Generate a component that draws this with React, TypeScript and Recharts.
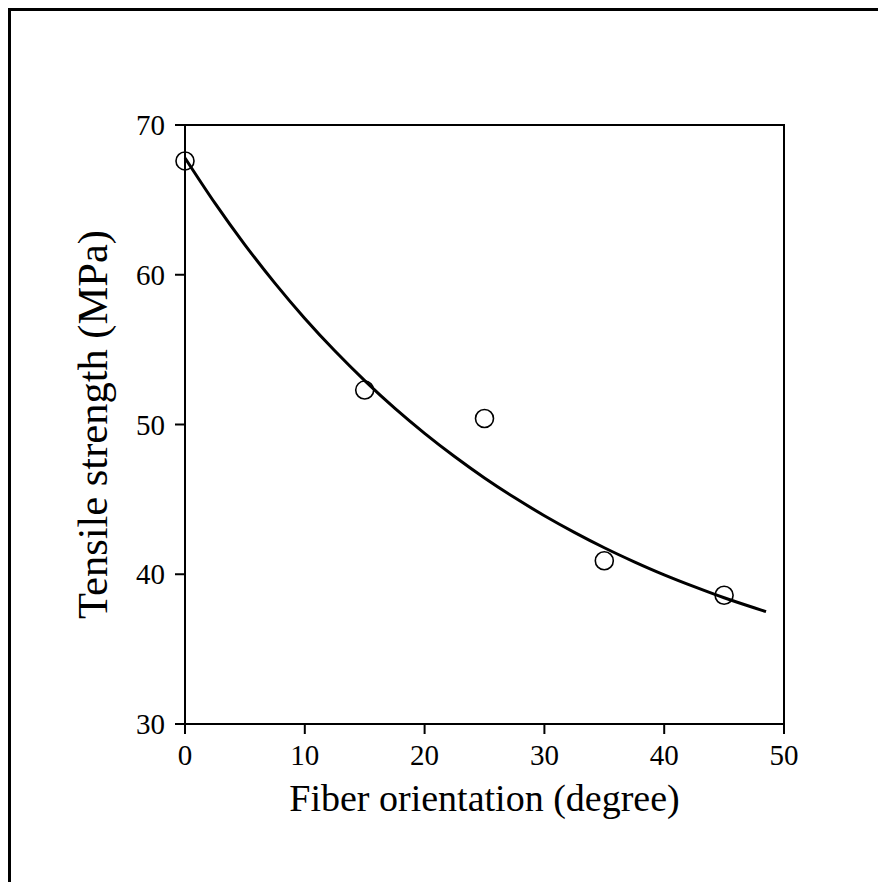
import {
  ComposedChart,
  Scatter,
  Line,
  XAxis,
  YAxis,
  ReferenceArea,
  Label,
} from "recharts";

// measured points
const orientation = [0, 15, 25, 35, 45];
const strength = [67.6, 52.3, 50.4, 40.9, 38.6];

// fitted curve
const fitX = [0, 2.5, 5, 7.5, 10, 12.5, 15, 17.5, 20, 22.5, 25, 27.5, 30, 32.5, 35, 37.5, 40, 42.5, 45, 47.5, 48.5];
const fitY = [67.8, 64.78, 62.0, 59.44, 57.08, 54.92, 52.93, 51.09, 49.41, 47.86, 46.43, 45.12, 43.91, 42.8, 41.77, 40.83, 39.96, 39.17, 38.43, 37.76, 37.5];

const xTicks = [0, 10, 20, 30, 40, 50];
const yTicks = [30, 40, 50, 60, 70];

const FONT = '"Liberation Serif", "Times New Roman", serif';
const TICK_SIZE = 29;

const points = orientation.map((x, i) => ({ x, y: strength[i] }));
const fit = fitX.map((x, i) => ({ x, y: fitY[i] }));

const OpenCircle = (props: any) => (
  <circle cx={props.cx} cy={props.cy} r={9} fill="none" stroke="#000" strokeWidth={1.6} />
);

const XTick = (props: any) => (
  <text
    x={props.x}
    y={props.y}
    dy="0.71em"
    textAnchor="middle"
    fill="#000"
    fontSize={TICK_SIZE}
    fontFamily={FONT}
  >
    {props.payload.value}
  </text>
);

const YTick = (props: any) => (
  <text
    x={props.x}
    y={props.y}
    dy="0.35em"
    textAnchor="end"
    fill="#000"
    fontSize={TICK_SIZE}
    fontFamily={FONT}
  >
    {props.payload.value}
  </text>
);

export default function App() {
  return (
    <div
      style={{
        width: 875,
        height: 871,
        borderLeft: "3px solid #000",
        borderTop: "3px solid #000",
        background: "#fff",
      }}
    >
      <ComposedChart
        width={875}
        height={871}
        margin={{ top: 114, right: 102, left: 0, bottom: 0 }}
      >
        <XAxis
          type="number"
          dataKey="x"
          domain={[0, 50]}
          ticks={xTicks}
          height={158}
          stroke="#000"
          strokeWidth={2}
          tickSize={10}
          tickMargin={10}
          tick={XTick}
        >
          <Label
            value="Fiber orientation (degree)"
            position="insideTop"
            offset={60}
            fill="#000"
            style={{ fill: "#000", fontSize: 38, fontFamily: FONT }}
          />
        </XAxis>
        <YAxis
          type="number"
          dataKey="y"
          domain={[30, 70]}
          ticks={yTicks}
          width={174}
          stroke="#000"
          strokeWidth={2}
          tickSize={10}
          tickMargin={10}
          tick={YTick}
        >
          <Label
            value="Tensile strength (MPa)"
            angle={-90}
            position="insideLeft"
            offset={81}
            fill="#000"
            style={{ fill: "#000", fontSize: 42.5, fontFamily: FONT, textAnchor: "middle" }}
          />
        </YAxis>
        <ReferenceArea
          x1={0}
          x2={50}
          y1={30}
          y2={70}
          fill="none"
          fillOpacity={0}
          stroke="#000"
          strokeWidth={2}
          strokeOpacity={1}
        />
        <Scatter
          data={points}
          dataKey="y"
          shape={OpenCircle}
          isAnimationActive={false}
        />
        <Line
          data={fit}
          dataKey="y"
          type="natural"
          dot={false}
          stroke="#000"
          strokeWidth={3}
          isAnimationActive={false}
        />
      </ComposedChart>
    </div>
  );
}
